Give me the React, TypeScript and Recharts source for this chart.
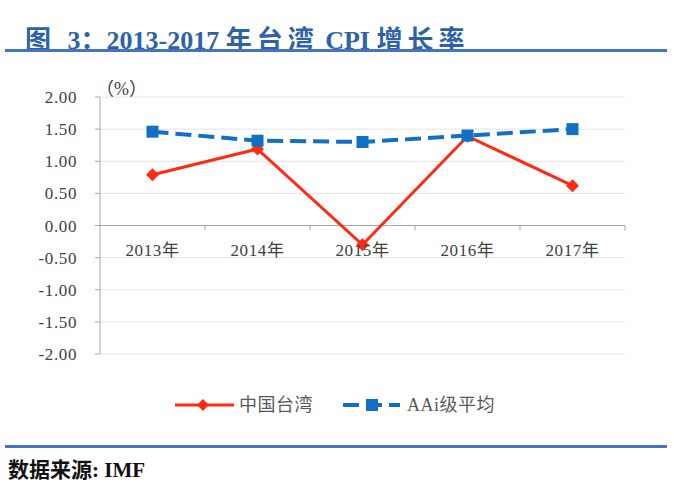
import React from 'react';
import { LineChart, Line, XAxis, YAxis, CartesianGrid, ReferenceLine, Legend } from 'recharts';

const years = ['2013年', '2014年', '2015年', '2016年', '2017年'];
const taiwan = [0.79, 1.19, -0.3, 1.39, 0.62];
const aaiAvg = [1.46, 1.32, 1.3, 1.4, 1.5];
const yTicks = [-2, -1.5, -1, -0.5, 0, 0.5, 1, 1.5, 2];

const RED = '#FF2A12';
const BLUE = '#1170C4';
const SERIF = '"Liberation Serif", "Noto Sans CJK SC", serif';
const AXIS_TEXT = { fontFamily: SERIF, fontSize: 17, letterSpacing: 0.6 };

// layout
const W = 674;
const H = 440;
const TOP = 97;
const PLOT_H = 257;
const LEFT = 100;
const RIGHT = 49;
const ZERO_Y = TOP + PLOT_H / 2;
const BAND = (W - LEFT - RIGHT) / years.length;

const chartData = years.map((year, i) => ({ year, taiwan: taiwan[i], aaiAvg: aaiAvg[i] }));

const CatTick = (props: any) => {
  const { x, payload } = props;
  return (
    <g>
      <line x1={x + BAND / 2} x2={x + BAND / 2} y1={ZERO_Y} y2={ZERO_Y + 5} stroke="#a6a6a6" />
      <text x={x} y={ZERO_Y + 30} textAnchor="middle" fill="#404040" style={AXIS_TEXT}>
        {payload.value}
      </text>
    </g>
  );
};

const ValTick = (props: any) => {
  const { x, y, payload } = props;
  return (
    <text x={x} y={y + 6} textAnchor="end" fill="#404040" style={AXIS_TEXT}>
      {Number(payload.value).toFixed(2)}
    </text>
  );
};

const Diamond = (props: any) => {
  const { cx, cy } = props;
  if (cx == null || cy == null) return null;
  const r = 6.5;
  return <path d={`M${cx},${cy - r}L${cx + r},${cy}L${cx},${cy + r}L${cx - r},${cy}Z`} fill={RED} />;
};

const Square = (props: any) => {
  const { cx, cy } = props;
  if (cx == null || cy == null) return null;
  return <rect x={cx - 6} y={cy - 6} width={12} height={12} fill={BLUE} />;
};

const LEGEND_TEXT = { fontFamily: SERIF, fontSize: 18, letterSpacing: 0.5 };

const LegendBox = () => (
  <svg width={W} height={30}>
    <line x1={175} x2={234} y1={15} y2={15} stroke={RED} strokeWidth={3} />
    <path d="M203,9L209,15L203,21L197,15Z" fill={RED} />
    <text x={239} y={21} fill="#595959" style={LEGEND_TEXT}>中国台湾</text>
    <line x1={343} x2={400} y1={15} y2={15} stroke={BLUE} strokeWidth={4} strokeDasharray="16 7" />
    <rect x={366} y={9} width={12} height={12} fill={BLUE} />
    <text x={407} y={21} fill="#595959" style={LEGEND_TEXT}>AAi级平均</text>
  </svg>
);

const cjk = { letterSpacing: 5 };

export default function App() {
  return (
    <div style={{ position: 'absolute', left: 0, top: 0, width: W, height: 496, background: '#fff' }}>
      <div
        style={{
          position: 'absolute',
          left: 25,
          top: 19,
          fontFamily: SERIF,
          fontWeight: 'bold',
          fontSize: 26,
          color: '#2E62A8',
          whiteSpace: 'nowrap',
        }}
      >
        <span style={cjk}>图 </span>3：2013-2017 <span style={cjk}>年台湾</span> CPI <span style={cjk}>增长率</span>
      </div>
      <div style={{ position: 'absolute', left: 5, top: 49, width: 662, height: 2.5, background: '#4472C4' }} />
      <div style={{ position: 'absolute', left: 0, top: 0 }}>
        <LineChart width={W} height={H} data={chartData} margin={{ top: TOP, right: RIGHT, left: 0, bottom: 20 }}>
          <CartesianGrid vertical={false} stroke="#e3e3e3" />
          <XAxis
            dataKey="year"
            axisLine={false}
            tickLine={false}
            height={36}
            tick={<CatTick />}
            interval={0}
            padding={{ left: BAND / 2, right: BAND / 2 }}
          />
          <YAxis
            domain={[-2, 2]}
            ticks={yTicks}
            width={LEFT}
            axisLine={{ stroke: '#a6a6a6' }}
            tickLine={{ stroke: '#a6a6a6' }}
            tickSize={5}
            tickMargin={18}
            tick={<ValTick />}
          />
          <ReferenceLine y={0} stroke="#a6a6a6" />
          <Line
            dataKey="taiwan"
            stroke={RED}
            strokeWidth={3}
            dot={<Diamond />}
            activeDot={false}
            isAnimationActive={false}
          />
          <Line
            dataKey="aaiAvg"
            stroke={BLUE}
            strokeWidth={4}
            strokeDasharray="16 7"
            dot={<Square />}
            activeDot={false}
            isAnimationActive={false}
          />
          <Legend verticalAlign="bottom" height={30} content={<LegendBox />} />
        </LineChart>
      </div>
      <div
        style={{
          position: 'absolute',
          left: 96,
          top: 74,
          fontFamily: SERIF,
          fontSize: 18,
          color: '#404040',
          whiteSpace: 'nowrap',
        }}
      >
        （%）
      </div>
      <div style={{ position: 'absolute', left: 5, top: 445, width: 662, height: 2.5, background: '#4472C4' }} />
      <div
        style={{
          position: 'absolute',
          left: 8,
          top: 453,
          fontFamily: SERIF,
          fontWeight: 'bold',
          fontSize: 21,
          color: '#111',
          whiteSpace: 'nowrap',
        }}
      >
        数据来源: IMF
      </div>
    </div>
  );
}
